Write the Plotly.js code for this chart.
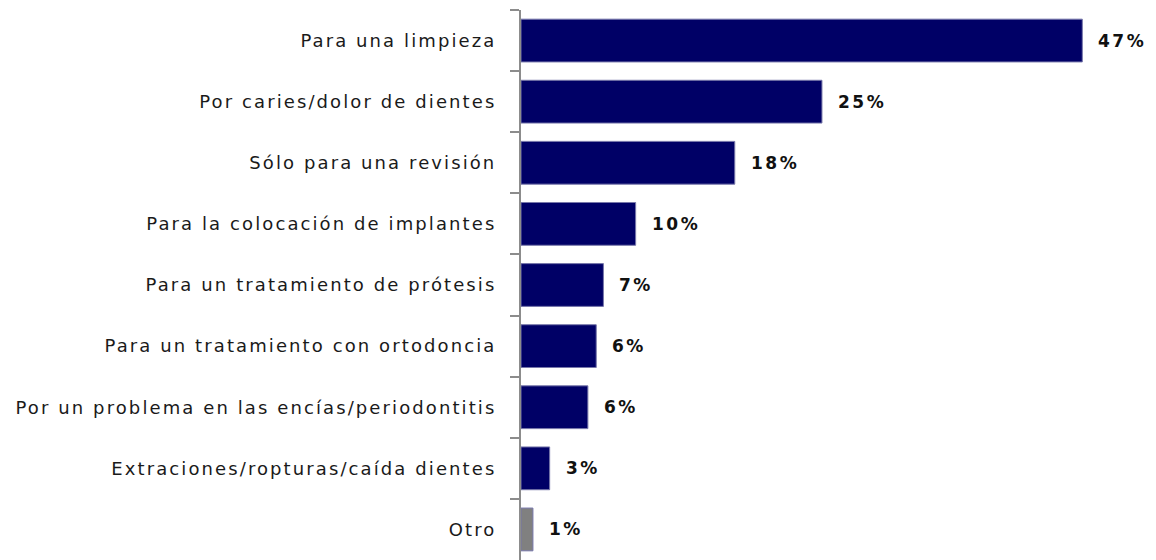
<!DOCTYPE html>
<html>
<head>
<meta charset="utf-8">
<script src="https://cdn.plot.ly/plotly-3.0.1.min.js"></script>
<style>
html,body{margin:0;padding:0;background:#fff;}
#chart{width:1156px;height:560px;}
#chart .ytick text{letter-spacing:2.1px;}
#chart .annotation-text{letter-spacing:2.5px;}
</style>
</head>
<body>
<div id="chart"></div>
<script>
const categories = [
  "Para una limpieza",
  "Por caries/dolor de dientes",
  "Sólo para una revisión",
  "Para la colocación de implantes",
  "Para un tratamiento de prótesis",
  "Para un tratamiento con ortodoncia",
  "Por un problema en las encías/periodontitis",
  "Extraciones/ropturas/caída dientes",
  "Otro"
];
const values = [47.0, 25.2, 17.9, 9.6, 6.9, 6.3, 5.6, 2.4, 1.0];
const valueLabels = ["47%", "25%", "18%", "10%", "7%", "6%", "6%", "3%", "1%"];
const barColors = ["#000066","#000066","#000066","#000066","#000066","#000066","#000066","#000066","#808080"];

const trace = {
  type: "bar",
  orientation: "h",
  x: values,
  y: categories,
  marker: {color: barColors, line: {color: "#7777aa", width: 1}},
  hoverinfo: "none"
};

const annotations = categories.map((c, i) => ({
  x: values[i], y: c, xref: "x", yref: "y",
  text: valueLabels[i], showarrow: false,
  xanchor: "left", align: "left", xshift: 14,
  font: {family: "DejaVu Sans", size: 17, color: "#111", weight: "bold"}
}));

const layout = {
  width: 1156, height: 560,
  margin: {l: 521, r: 8, t: 10, b: 0},
  paper_bgcolor: "#fff", plot_bgcolor: "#fff",
  bargap: 0.3,
  showlegend: false,
  xaxis: {range: [0, 52.5], visible: false, fixedrange: true},
  yaxis: {
    autorange: "reversed",
    type: "category",
    showline: true, linecolor: "#8c8c8c", linewidth: 2,
    ticks: "outside", tickson: "boundaries", ticklen: 9, tickwidth: 2, tickcolor: "#8c8c8c",
    ticklabelstandoff: 19,
    showgrid: false, zeroline: false,
    tickfont: {family: "DejaVu Sans", size: 18, color: "#1a1a1a"}
  },
  annotations: annotations
};

Plotly.newPlot("chart", [trace], layout, {displayModeBar: false, staticPlot: true});
</script>
</body>
</html>
